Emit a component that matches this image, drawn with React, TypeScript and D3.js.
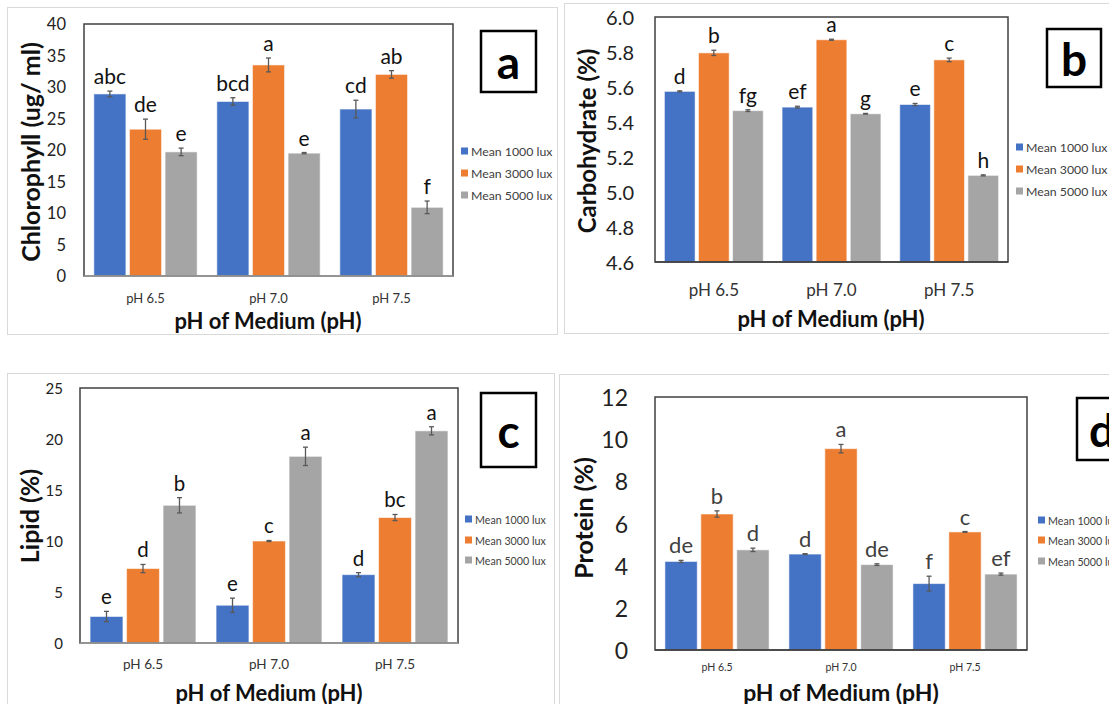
import * as d3 from "d3";

const categories = ["pH 6.5", "pH 7.0", "pH 7.5"];
const seriesNames = ["Mean 1000 lux", "Mean 3000 lux", "Mean 5000 lux"];
const seriesColors = ["#4472C4", "#ED7D31", "#A5A5A5"];

// a - chlorophyll (ug/ml)
const chl1000 = [28.9, 27.7, 26.5];
const chl3000 = [23.3, 33.5, 32.0];
const chl5000 = [19.7, 19.5, 10.9];
const chlErr1000 = [0.45, 0.6, 1.4];
const chlErr3000 = [1.6, 1.1, 0.6];
const chlErr5000 = [0.6, 0.1, 1.0];
const chlLetters1000 = ["abc", "bcd", "cd"];
const chlLetters3000 = ["de", "a", "ab"];
const chlLetters5000 = ["e", "e", "f"];
const chlTicks = [0, 5, 10, 15, 20, 25, 30, 35, 40];

// b - carbohydrate (%)
const carb1000 = [5.575, 5.485, 5.5];
const carb3000 = [5.795, 5.87, 5.755];
const carb5000 = [5.465, 5.447, 5.095];
const carbErr1000 = [0.003, 0.005, 0.006];
const carbErr3000 = [0.015, 0.003, 0.01];
const carbErr5000 = [0.005, 0.002, 0.003];
const carbLetters1000 = ["d", "ef", "e"];
const carbLetters3000 = ["b", "a", "c"];
const carbLetters5000 = ["fg", "g", "h"];
const carbTicks = [4.6, 4.8, 5.0, 5.2, 5.4, 5.6, 5.8, 6.0];

// c - lipid (%)
const lip1000 = [2.6, 3.7, 6.7];
const lip3000 = [7.3, 10.0, 12.3];
const lip5000 = [13.5, 18.3, 20.8];
const lipErr1000 = [0.5, 0.7, 0.2];
const lipErr3000 = [0.4, 0.05, 0.3];
const lipErr5000 = [0.75, 0.9, 0.4];
const lipLetters1000 = ["e", "e", "d"];
const lipLetters3000 = ["d", "c", "bc"];
const lipLetters5000 = ["b", "a", "a"];
const lipTicks = [0, 5, 10, 15, 20, 25];

// d - protein (%)
const pro1000 = [4.2, 4.55, 3.15];
const pro3000 = [6.45, 9.55, 5.6];
const pro5000 = [4.75, 4.05, 3.6];
const proErr1000 = [0.05, 0.02, 0.35];
const proErr3000 = [0.15, 0.2, 0.02];
const proErr5000 = [0.08, 0.04, 0.05];
const proLetters1000 = ["de", "d", "f"];
const proLetters3000 = ["b", "a", "c"];
const proLetters5000 = ["d", "de", "ef"];
const proTicks = [0, 2, 4, 6, 8, 10, 12];

const FONT = "Lato, 'Open Sans', sans-serif";

type PanelProps = {
  values: number[][];
  errors: number[][];
  letters: string[][];
  ticks: number[];
  tickFormat: (d: number) => string;
  yTitle: string;
  tag: string;
  frame: { x: number; y: number; w: number; h: number };
  plot: { l: number; t: number; r: number; b: number };
  tickFont: number;
  tickX: number;
  catFont: number;
  catY: number;
  xTitleX: number;
  xTitleY: number;
  xTitleFont: number;
  yTitleX: number;
  yTitleY: number;
  yTitleFont: number;
  legendX: number;
  legendYs: number[];
  legendFont: number;
  tagBox: { x: number; y: number; w: number; h: number };
  tagFont: number;
  letterFont: number;
  letterColor: string;
  baseColor: string;
};

const Panel = (p: PanelProps) => {
  const { plot } = p;
  const x0 = d3.scaleBand().domain(categories).range([plot.l, plot.r]).paddingInner(0.16).paddingOuter(0.08);
  const x1 = d3.scaleBand().domain(seriesNames).range([0, x0.bandwidth()]).paddingInner(0.1);
  const y = d3.scaleLinear().domain(d3.extent(p.ticks) as [number, number]).range([plot.b, plot.t]);

  return (
    <g fontFamily={FONT}>
      <rect x={p.frame.x + 0.5} y={p.frame.y + 0.5} width={p.frame.w} height={p.frame.h} fill="#fff" stroke="#d9d9d9" />

      {/* value axis labels */}
      {p.ticks.map((t) => (
        <text key={t} x={p.tickX} y={y(t)} textAnchor="end" dominantBaseline="central" fontSize={p.tickFont} fill="#222">
          {p.tickFormat(t)}
        </text>
      ))}

      {/* bars */}
      {seriesNames.map((s, si) => (
        <g key={s} fill={seriesColors[si]}>
          {categories.map((c, ci) => {
            const v = p.values[si][ci];
            return (
              <rect key={c} x={x0(c)! + x1(s)!} y={y(v)} width={x1.bandwidth()} height={plot.b - y(v)}
                stroke="#fff" strokeOpacity={0.55} strokeWidth={1} />
            );
          })}
        </g>
      ))}

      {/* error bars */}
      <g stroke="#595959" strokeWidth={1.3}>
        {seriesNames.map((s, si) =>
          categories.map((c, ci) => {
            const v = p.values[si][ci];
            const e = p.errors[si][ci];
            const cx = x0(c)! + x1(s)! + x1.bandwidth() / 2;
            return (
              <g key={s + c}>
                <line x1={cx} x2={cx} y1={y(v + e)} y2={y(v - e)} />
                <line x1={cx - 2.5} x2={cx + 2.5} y1={y(v + e)} y2={y(v + e)} />
                <line x1={cx - 2.5} x2={cx + 2.5} y1={y(v - e)} y2={y(v - e)} />
              </g>
            );
          })
        )}
      </g>

      {/* significance letters */}
      {seriesNames.map((s, si) =>
        categories.map((c, ci) => {
          const v = p.values[si][ci];
          const e = p.errors[si][ci];
          const cx = x0(c)! + x1(s)! + x1.bandwidth() / 2;
          return (
            <text key={s + c} x={cx} y={y(v + e) - 7} textAnchor="middle" fontSize={p.letterFont} fill={p.letterColor}>
              {p.letters[si][ci]}
            </text>
          );
        })
      )}

      {/* plot area border */}
      <rect x={plot.l} y={plot.t} width={plot.r - plot.l} height={plot.b - plot.t} fill="none" stroke="#404040" strokeWidth={1.5} />
      <line x1={plot.l} x2={plot.r} y1={plot.b} y2={plot.b} stroke={p.baseColor} strokeWidth={1.5} />

      {/* category labels */}
      {categories.map((c) => (
        <text key={c} x={x0(c)! + x0.bandwidth() / 2} y={p.catY} textAnchor="middle" dominantBaseline="central" fontSize={p.catFont} fill="#333">
          {c}
        </text>
      ))}

      <text x={p.xTitleX} y={p.xTitleY} textAnchor="middle" dominantBaseline="central" fontSize={p.xTitleFont} fontWeight="bold" fill="#111">
        pH of Medium (pH)
      </text>
      <text transform={`translate(${p.yTitleX},${p.yTitleY}) rotate(-90)`} textAnchor="middle" dominantBaseline="central" fontSize={p.yTitleFont} fontWeight="bold" fill="#111">
        {p.yTitle}
      </text>

      {/* legend */}
      {seriesNames.map((s, si) => (
        <g key={s}>
          <rect x={p.legendX} y={p.legendYs[si] - 3.5} width={7} height={7} fill={seriesColors[si]} />
          <text x={p.legendX + 10} y={p.legendYs[si]} dominantBaseline="central" fontSize={p.legendFont} fill="#404040">
            {s}
          </text>
        </g>
      ))}

      {/* panel tag */}
      <rect x={p.tagBox.x} y={p.tagBox.y} width={p.tagBox.w} height={p.tagBox.h} fill="#fff" stroke="#000" strokeWidth={2.5} />
      <text x={p.tagBox.x + p.tagBox.w / 2} y={p.tagBox.y + p.tagBox.h / 2} textAnchor="middle" dominantBaseline="central" fontSize={p.tagFont} fontWeight="bold" fill="#000">
        {p.tag}
      </text>
    </g>
  );
};

const intFmt = d3.format("d");
const oneDec = d3.format(".1f");

export default function App() {
  return (
    <svg width={1109} height={704} style={{ position: "absolute", left: 0, top: 0, background: "#fff" }}>
      <Panel
        values={[chl1000, chl3000, chl5000]}
        errors={[chlErr1000, chlErr3000, chlErr5000]}
        letters={[chlLetters1000, chlLetters3000, chlLetters5000]}
        ticks={chlTicks}
        tickFormat={intFmt}
        yTitle="Chlorophyll (ug/ ml)"
        tag="a"
        frame={{ x: 7, y: 7, w: 550, h: 327 }}
        plot={{ l: 84, t: 24, r: 453, b: 276 }}
        tickFont={16.5}
        tickX={66}
        catFont={13}
        catY={298}
        xTitleX={268}
        xTitleY={320}
        xTitleFont={22}
        yTitleX={30}
        yTitleY={152}
        yTitleFont={25}
        legendX={461}
        legendYs={[151, 173, 195]}
        legendFont={12.3}
        tagBox={{ x: 481, y: 31, w: 55, h: 61 }}
        tagFont={46}
        letterFont={21}
        letterColor="#111"
        baseColor="#a0a0a0"
      />
      <Panel
        values={[carb1000, carb3000, carb5000]}
        errors={[carbErr1000, carbErr3000, carbErr5000]}
        letters={[carbLetters1000, carbLetters3000, carbLetters5000]}
        ticks={carbTicks}
        tickFormat={oneDec}
        yTitle="Carbohydrate (%)"
        tag="b"
        frame={{ x: 564, y: 3, w: 546, h: 330 }}
        plot={{ l: 655, t: 17, r: 1008, b: 262 }}
        tickFont={20}
        tickX={634}
        catFont={17}
        catY={289}
        xTitleX={831}
        xTitleY={318}
        xTitleFont={22}
        yTitleX={586}
        yTitleY={141}
        yTitleFont={24}
        legendX={1016}
        legendYs={[147, 169, 191]}
        legendFont={12.3}
        tagBox={{ x: 1047, y: 29, w: 54, h: 58 }}
        tagFont={46}
        letterFont={21}
        letterColor="#111"
        baseColor="#404040"
      />
      <Panel
        values={[lip1000, lip3000, lip5000]}
        errors={[lipErr1000, lipErr3000, lipErr5000]}
        letters={[lipLetters1000, lipLetters3000, lipLetters5000]}
        ticks={lipTicks}
        tickFormat={intFmt}
        yTitle="Lipid (%)"
        tag="c"
        frame={{ x: 7, y: 373, w: 547, h: 340 }}
        plot={{ l: 80, t: 388, r: 458, b: 643 }}
        tickFont={15}
        tickX={63}
        catFont={13.5}
        catY={664}
        xTitleX={269}
        xTitleY={692}
        xTitleFont={22}
        yTitleX={29}
        yTitleY={516}
        yTitleFont={25}
        legendX={465}
        legendYs={[519, 540, 560]}
        legendFont={10.7}
        tagBox={{ x: 481, y: 393, w: 55, h: 74 }}
        tagFont={46}
        letterFont={20.5}
        letterColor="#111"
        baseColor="#a0a0a0"
      />
      <Panel
        values={[pro1000, pro3000, pro5000]}
        errors={[proErr1000, proErr3000, proErr5000]}
        letters={[proLetters1000, proLetters3000, proLetters5000]}
        ticks={proTicks}
        tickFormat={intFmt}
        yTitle="Protein (%)"
        tag="d"
        frame={{ x: 559, y: 374, w: 550, h: 340 }}
        plot={{ l: 655, t: 397, r: 1027, b: 650 }}
        tickFont={23}
        tickX={628}
        catFont={10.5}
        catY={667}
        xTitleX={841}
        xTitleY={692}
        xTitleFont={23}
        yTitleX={583}
        yTitleY={518}
        yTitleFont={25}
        legendX={1038}
        legendYs={[520, 540, 561]}
        legendFont={10.7}
        tagBox={{ x: 1077, y: 398, w: 50, h: 62 }}
        tagFont={46}
        letterFont={22}
        letterColor="#404040"
        baseColor="#404040"
      />
    </svg>
  );
}
